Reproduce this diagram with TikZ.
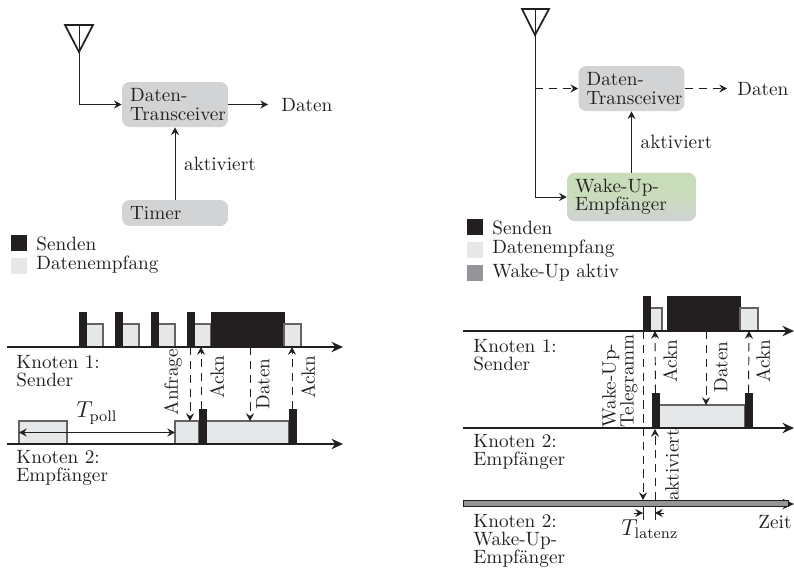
\documentclass[tikz,border=0pt]{standalone}
\usepackage{tikz}
\usetikzlibrary{arrows.meta, fit}

\definecolor{ink}{HTML}{231F20}
\definecolor{boxgray}{HTML}{D1D3D4}
\definecolor{rxgray}{HTML}{E6E7E8}
\definecolor{wakegray}{HTML}{939598}
\definecolor{wakegreen}{HTML}{C8DDB8}

\begin{document}
\begin{tikzpicture}[
  x=0.52pt, y=-0.52pt,
  every node/.style={text=ink},
  textfont/.style={font=\fontsize{10}{9.4}\selectfont},
  lab/.style={textfont, inner sep=0pt, align=left, anchor=west},
  vlab/.style={textfont, inner sep=0pt, align=left, rotate=90},
  mathlab/.style={font=\fontsize{11.6}{12}\selectfont, inner sep=0pt, anchor=west},
  box/.style={textfont, fill=boxgray, rounded corners=4pt, inner xsep=0pt, inner ysep=0pt, align=left,
    execute at begin node={\leftskip=4.2pt}},
  arrow/.style={-{Stealth[length=4pt, width=4.2pt, inset=1.4pt]}, ink, line width=0.5pt},
  dasharrow/.style={arrow, dash pattern=on 4.4pt off 2.8pt},
  bothways/.style={{Stealth[length=4pt, width=4.2pt, inset=1.4pt]}-{Stealth[length=4pt, width=4.2pt, inset=1.4pt]}, ink, line width=0.5pt},
  axis/.style={-{Stealth[length=6pt, width=5.4pt, inset=2pt]}, ink, line width=0.9pt},
  antenna/.style={ink, line width=0.9pt, line join=miter},
  sendbar/.style={fill=ink, draw=ink, line width=0.3pt, inner sep=0pt, outer sep=0pt},
  rxbar/.style={fill=rxgray, draw=ink!70, line width=0.6pt, inner sep=0pt, outer sep=0pt},
  wakebar/.style={fill=wakegray, draw=ink, line width=0.5pt, inner sep=0pt, outer sep=0pt},
  key/.style={minimum size=8.3pt, inner sep=0pt, outer sep=0pt}
]
\useasboundingbox (0,0) rectangle (794,568);

\draw[antenna] (79,25) -- (65,25) -- (79,52) -- (93,25) -- cycle;
\coordinate (ant1) at (79,25);
\coordinate (out1) at (268,104.5);
\node[box, text width=55.1pt, minimum height=23.4pt] (trans1) at (175,104.5) {Daten-\\Transceiver};
\node[box, text width=55.1pt, minimum height=13.5pt] (timer) at (175,213) {Timer};
\node[lab] (daten1) at (281,105) {Daten};
\draw[arrow] (ant1) |- (trans1.west);
\draw[arrow] (trans1.east) -- (out1);
\draw[arrow] (timer.north) -- node[lab, pos=0.5, xshift=4.5pt] (akt1) {aktiviert} (trans1.south);

\node[key, fill=ink] (send1) at (19,243) {};
\node[key, fill=rxgray] (rx1) at (19,266) {};
\node[lab] (sendt1) at (36,244) {Senden};
\node[lab] (rxt1) at (36,265) {Datenempfang};

\coordinate (ax1a) at (7,347);
\coordinate (ax1b) at (343,347);
\coordinate (ax2a) at (7,444);
\coordinate (ax2b) at (343,444);
\foreach \x/\n in {79/a,115/b,151/c,187/d}{
  \node[rxbar, fit={(\x+7,324)(\x+24,347)}] (rx\n) {};
  \node[sendbar, fit={(\x,312)(\x+7,347)}] (snd\n) {};
}
\node[sendbar, fit={(211,312)(284,347)}] (data1) {};
\node[rxbar, fit={(284,324)(301,347)}] (ackrx1) {};
\node[rxbar, fit={(19,421)(67,444)}] (poll1) {};
\node[rxbar, fit={(175,421)(199,444)}] (poll2) {};
\node[rxbar, fit={(206,421)(289,444)}] (datrx1) {};
\node[sendbar, fit={(199,409)(206,444)}] (ack1) {};
\node[sendbar, fit={(289,409)(296,444)}] (ack2) {};
\draw[axis] (ax1a) -- (ax1b);
\draw[axis] (ax2a) -- (ax2b);

\coordinate (anf1) at (190,347);
\coordinate (anf2) at (190,421);
\coordinate (dat1) at (250,347);
\coordinate (dat2) at (250,421);
\coordinate (ackup1) at (201,347);
\coordinate (ackup2) at (292,347);
\draw[dasharrow] (anf1) -- (anf2);
\draw[dasharrow] (ack1.north -| ackup1) -- (ackup1);
\draw[dasharrow] (dat1) -- (dat2);
\draw[dasharrow] (ack2.north -| ackup2) -- (ackup2);
\draw[bothways] (poll1.west) -- (poll2.west);

\node[vlab] (anfl) at (173,382) {Anfrage};
\node[vlab] (ackl1) at (217,377) {Ackn};
\node[vlab] (datl1) at (263,384) {Daten};
\node[vlab] (ackl2) at (308,377) {Ackn};
\node[mathlab] (tpoll) at (76,413) {$T_{\mathrm{poll}}$};
\node[lab] (kn1) at (16,371) {Knoten 1:\\Sender};
\node[lab] (kn2) at (16,468) {Knoten 2:\\Empfänger};

\draw[antenna] (535,9) -- (522,9) -- (535,35) -- (549,9) -- cycle;
\coordinate (ant2) at (535,9);
\coordinate (split) at (535,88.5);
\coordinate (out2) at (727,88.5);
\node[box, text width=55.1pt, minimum height=23.4pt] (trans2) at (631.5,88.5) {Daten-\\Transceiver};
\node[box, text width=67pt, minimum height=25pt, top color=wakegreen, bottom color=boxgray, middle color=wakegreen!85!boxgray] (wake) at (631.5,197) {Wake-Up-\\Empfänger};
\node[lab] (daten2) at (737,89) {Daten};
\draw[arrow] (ant2) |- (wake.west);
\draw[dasharrow] (split) -- (trans2.west);
\draw[dasharrow] (trans2.east) -- (out2);
\draw[arrow] (wake.north) -- node[lab, pos=0.5, xshift=4.5pt] (akt2) {aktiviert} (trans2.south);

\node[key, fill=ink] (send2) at (475,227) {};
\node[key, fill=rxgray] (rx2) at (475,250) {};
\node[key, fill=wakegray] (wk2) at (475,273) {};
\node[lab] (sendt2) at (492,228) {Senden};
\node[lab] (rxt2) at (492,249) {Datenempfang};
\node[lab] (wkt2) at (492,273) {Wake-Up aktiv};

\coordinate (bx1a) at (463,331);
\coordinate (bx1b) at (794,331);
\coordinate (bx2a) at (463,428);
\coordinate (bx2b) at (794,428);
\coordinate (bx3a) at (463,504);
\coordinate (bx3b) at (794,504);
\node[rxbar, fit={(650,308)(662,331)}] (rxw) {};
\node[sendbar, fit={(643,296)(650,331)}] (sndw) {};
\node[sendbar, fit={(667,296)(740,331)}] (data2) {};
\node[rxbar, fit={(740,308)(758,331)}] (ackrx2) {};
\node[rxbar, fit={(659,405)(745,428)}] (datrx2) {};
\node[sendbar, fit={(652,393)(659,428)}] (ack3) {};
\node[sendbar, fit={(745,393)(752,428)}] (ack4) {};
\draw[axis] (bx1a) -- (bx1b);
\draw[axis] (bx2a) -- (bx2b);
\draw[axis] (bx3a) -- (bx3b);
\node[wakebar, fit={(463,500)(788,506)}] (wkbar) {};

\coordinate (tel1) at (643,331);
\coordinate (tel2) at (643,500);
\coordinate (akt3) at (655,500);
\coordinate (akt4) at (655,429);
\coordinate (ackup3) at (655,331);
\coordinate (ackup4) at (749,331);
\coordinate (dat3) at (706,331);
\coordinate (dat4) at (706,405);
\draw[dasharrow] (tel1) -- (tel2);
\draw[dasharrow] (akt3) -- (akt4);
\draw[dasharrow] (ack3.north) -- (ackup3);
\draw[dasharrow] (ack4.north) -- (ackup4);
\draw[dasharrow] (dat3) -- (dat4);

\node[vlab] (tell) at (620,381) {Wake-Up-\\Telegramm};
\node[vlab] (ackl3) at (670,361) {Ackn};
\node[vlab] (datl2) at (721,367) {Daten};
\node[vlab] (ackl4) at (763,361) {Ackn};
\node[vlab] (aktl) at (672,465) {aktiviert};

\coordinate (lat1) at (643,506);
\coordinate (lat2) at (643,520);
\coordinate (lat3) at (655,506);
\coordinate (lat4) at (655,520);
\coordinate (lat5) at (634,513);
\coordinate (lat6) at (643,513);
\coordinate (lat7) at (664,513);
\coordinate (lat8) at (655,513);
\draw[ink, line width=0.5pt] (lat1) -- (lat2);
\draw[ink, line width=0.5pt] (lat3) -- (lat4);
\draw[arrow] (lat5) -- (lat6);
\draw[arrow] (lat7) -- (lat8);

\node[mathlab] (tlat) at (621,529) {$T_{\mathrm{latenz}}$};
\node[lab] (zeit) at (758,522) {Zeit};
\node[lab] (kn3) at (473,355) {Knoten 1:\\Sender};
\node[lab] (kn4) at (473,452) {Knoten 2:\\Empfänger};
\node[lab] (kn5) at (473,540.5) {Knoten 2:\\Wake-Up-\\Empfänger};
\end{tikzpicture}
\end{document}
